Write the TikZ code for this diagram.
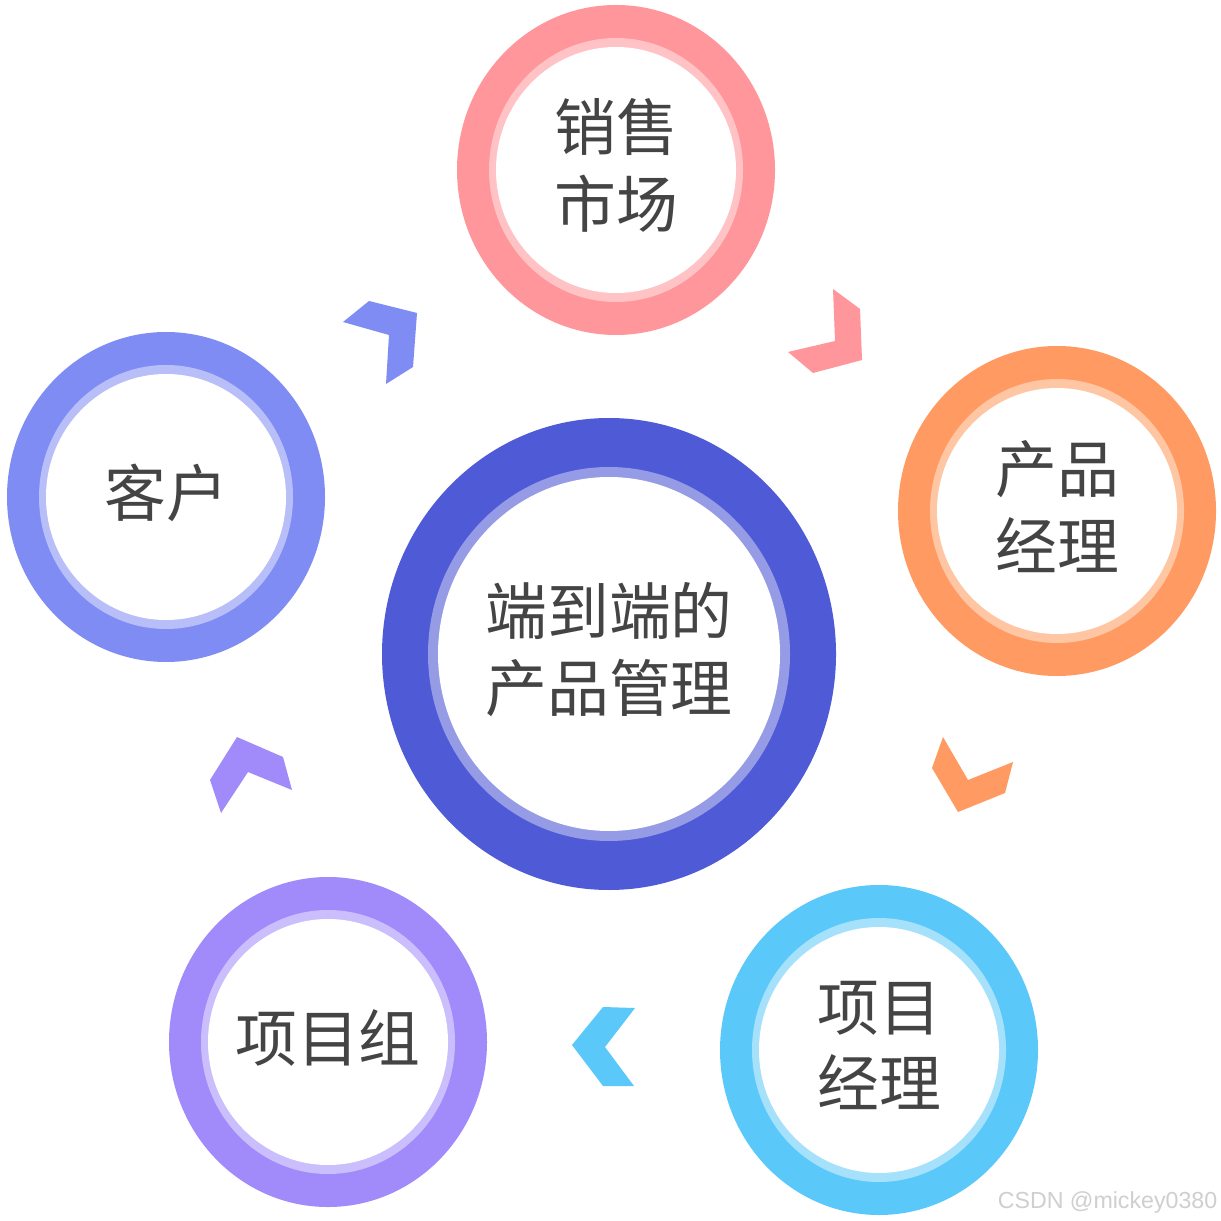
\documentclass[tikz,border=0pt]{standalone}
\usepackage{fontspec}
\newfontfamily\cjk{Noto Sans CJK SC}
\newfontfamily\creditfont{Liberation Sans}
\usetikzlibrary{shapes.geometric}
\definecolor{Ink}{HTML}{444444}
\definecolor{Faint}{HTML}{CFCFCF}
\definecolor{Pink}{HTML}{FF969B}
\definecolor{SoftPink}{HTML}{FFC2C5}
\definecolor{Orange}{HTML}{FF9B62}
\definecolor{SoftOrange}{HTML}{FFC6A3}
\definecolor{Sky}{HTML}{5BC8FA}
\definecolor{SoftSky}{HTML}{A6E1FC}
\definecolor{Violet}{HTML}{A18BFB}
\definecolor{SoftViolet}{HTML}{CABEFD}
\definecolor{Periwinkle}{HTML}{7F8CF4}
\definecolor{SoftPeriwinkle}{HTML}{B7BEF8}
\definecolor{Indigo}{HTML}{4F5AD6}
\definecolor{SoftIndigo}{HTML}{959BE5}

\begin{document}
\begin{tikzpicture}[
  x=0.1mm,y=-0.1mm,
  rim/.style={ellipse,inner sep=0pt,minimum width=31.8mm,minimum height=33mm},
  glow/.style={ellipse,inner sep=0pt,minimum width=25.4mm,minimum height=26.4mm},
  core/.style={ellipse,inner sep=0pt,fill=white,minimum width=24mm,minimum height=24.6mm},
  bigrim/.style={rim,minimum width=45.4mm,minimum height=47.2mm},
  bigglow/.style={glow,minimum width=36.2mm,minimum height=37.4mm},
  bigcore/.style={core,minimum width=34.2mm,minimum height=35.4mm},
  caption/.style={inner sep=0pt,align=center,text=Ink,yshift=0.45mm,
    font=\cjk\fontsize{17.6pt}{21.8pt}\selectfont}
]
\useasboundingbox[fill=white] (0,0) rectangle (1221,1221);
% centre
\node[bigrim,fill=Indigo] (hubrim) at (609,654) {};
\node[bigglow,fill=SoftIndigo] (hubglow) at (hubrim.center) {};
\node[bigcore] (hubcore) at (hubrim.center) {};
\node[caption] (hub) at (hubrim.center) {端到端的\\产品管理};
% sales
\node[rim,fill=Pink] (salesrim) at (616,170) {};
\node[glow,fill=SoftPink] (salesglow) at (salesrim.center) {};
\node[core] (salescore) at (salesrim.center) {};
\node[caption] (sales) at (salesrim.center) {销售\\市场};
% product manager
\node[rim,fill=Orange] (pmrim) at (1057,511) {};
\node[glow,fill=SoftOrange] (pmglow) at (pmrim.center) {};
\node[core] (pmcore) at (pmrim.center) {};
\node[caption] (pm) at (pmrim.center) {产品\\经理};
% project manager
\node[rim,fill=Sky] (projrim) at (879,1050) {};
\node[glow,fill=SoftSky] (projglow) at (projrim.center) {};
\node[core] (projcore) at (projrim.center) {};
\node[caption] (proj) at (projrim.center) {项目\\经理};
% team
\node[rim,fill=Violet] (teamrim) at (328,1042) {};
\node[glow,fill=SoftViolet] (teamglow) at (teamrim.center) {};
\node[core] (teamcore) at (teamrim.center) {};
\node[caption] (team) at (teamrim.center) {项目组};
% client
\node[rim,fill=Periwinkle] (clientrim) at (166,497) {};
\node[glow,fill=SoftPeriwinkle] (clientglow) at (clientrim.center) {};
\node[core] (clientcore) at (clientrim.center) {};
\node[caption] (client) at (clientrim.center) {客户};
% chevrons
\fill[Periwinkle] (343,322) -- (369,301) -- (417,313) -- (413,367) -- (386,384) -- (389,335) -- cycle;
\fill[Pink] (833,289) -- (860,309) -- (862,360) -- (813,373) -- (788,352) -- (835,341) -- cycle;
\fill[Orange] (943,737) -- (968,780) -- (1013,762) -- (1005,793) -- (958,812) -- (932,768) -- cycle;
\fill[Sky] (603,1007) -- (635,1008) -- (605,1047) -- (634,1086) -- (603,1086) -- (572,1045) -- cycle;
\fill[Violet] (237,737) -- (283,757) -- (292,790) -- (248,772) -- (221,813) -- (210,780) -- cycle;
% watermark
\node[text=Faint,inner sep=0pt,font=\creditfont\fontsize{6.6pt}{7pt}\selectfont,anchor=east] (credit) at (1218,1202) {CSDN @mickey0380};
\end{tikzpicture}
\end{document}
